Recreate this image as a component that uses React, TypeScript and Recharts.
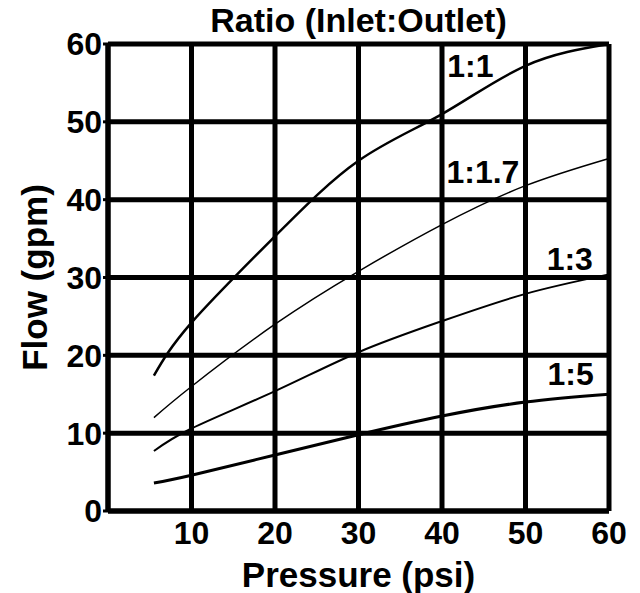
import { LineChart, Line, XAxis, YAxis, CartesianGrid, ReferenceDot } from "recharts"

const pressure = [5.5, 10, 20, 30, 40, 50, 60]
const ratio1to1 = [17.4, 24.2, 35.3, 45.0, 51.0, 57.2, 60]
const ratio1to17 = [12, 16, 24, 30.8, 36.8, 41.8, 45.3]
const ratio1to3 = [7.7, 10.6, 15.4, 20.4, 24.4, 27.9, 30.4]
const ratio1to5 = [3.6, 4.6, 7.2, 9.8, 12.2, 14.0, 15.0]

const xTicks = [10, 20, 30, 40, 50, 60]
const yTicks = [0, 10, 20, 30, 40, 50, 60]

// curve names and where they sit (pressure, flow)
const ratioNames = ["1:1", "1:1.7", "1:3", "1:5"]
const namePressure = [43.4, 44.9, 55.3, 55.4]
const nameFlow = [57.2, 43.6, 32.4, 17.6]

const data = pressure.map((p, i) => ({
  pressure: p,
  r1: ratio1to1[i],
  r17: ratio1to17[i],
  r3: ratio1to3[i],
  r5: ratio1to5[i],
}))

const font = "'Liberation Sans', Arial, sans-serif"
const tickStyle = { fill: "#000", fontSize: 32, fontWeight: 700, fontFamily: font }

export default function App() {
  return (
    <div style={{ position: "absolute", left: 0, top: 0, width: 640, height: 593, background: "#fff", fontFamily: font }}>
      <div
        style={{
          position: "absolute",
          left: 108,
          width: 501,
          top: 2,
          textAlign: "center",
          fontSize: 34,
          lineHeight: "36px",
          fontWeight: 700,
          color: "#000",
        }}
      >
        Ratio (Inlet:Outlet)
      </div>
      <LineChart width={640} height={593} data={data} margin={{ top: 44, right: 31, bottom: 0, left: 0 }}>
        <CartesianGrid stroke="#000" strokeWidth={5} />
        <XAxis
          dataKey="pressure"
          type="number"
          domain={[0, 60]}
          ticks={xTicks}
          height={82}
          axisLine={{ stroke: "#000", strokeWidth: 5 }}
          tickLine={false}
          tickSize={6}
          tickMargin={4}
          tick={tickStyle}
          label={{ value: "Pressure (psi)", position: "insideBottom", offset: 6, fill: "#000", fontSize: 35, fontWeight: 700, fontFamily: font }}
        />
        <YAxis
          type="number"
          domain={[0, 60]}
          ticks={yTicks}
          width={108}
          axisLine={{ stroke: "#000", strokeWidth: 5 }}
          tickLine={{ stroke: "#000", strokeWidth: 3 }}
          tickSize={5}
          tickMargin={1}
          tick={tickStyle}
          label={{
            value: "Flow (gpm)",
            angle: -90,
            position: "insideLeft",
            offset: 35,
            fill: "#000",
            fontSize: 35,
            fontWeight: 700,
            fontFamily: font,
            style: { textAnchor: "middle" },
          }}
        />
        <Line type="natural" dataKey="r1" stroke="#000" strokeWidth={2.5} dot={false} isAnimationActive={false} />
        <Line type="natural" dataKey="r17" stroke="#000" strokeWidth={1.5} dot={false} isAnimationActive={false} />
        <Line type="natural" dataKey="r3" stroke="#000" strokeWidth={2} dot={false} isAnimationActive={false} />
        <Line type="natural" dataKey="r5" stroke="#000" strokeWidth={3} dot={false} isAnimationActive={false} />
        {ratioNames.map((name, i) => (
          <ReferenceDot
            key={name}
            x={namePressure[i]}
            y={nameFlow[i]}
            r={0}
            stroke="none"
            label={{ value: name, position: "center", fill: "#000", fontSize: 32, fontWeight: 700, fontFamily: font }}
          />
        ))}
      </LineChart>
    </div>
  )
}
